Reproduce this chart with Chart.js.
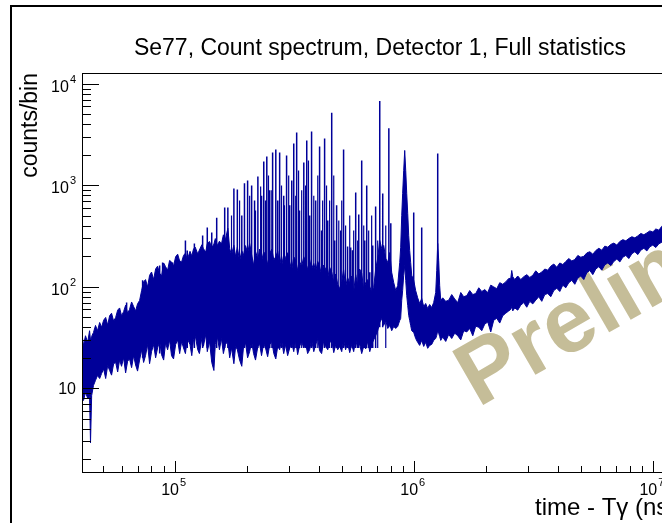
<!DOCTYPE html>
<html lang="en">
<head>
<meta charset="UTF-8" />
<title>Se77, Count spectrum, Detector 1</title>
<script src="https://cdn.jsdelivr.net/npm/chart.js"></script>
<style>
  html, body { margin: 0; padding: 0; background: #fff; overflow: hidden; }
  #wrap { width: 662px; height: 523px; overflow: hidden; }
  canvas { display: block; }
</style>
</head>
<body>
<div id="wrap"><canvas id="spec" width="760" height="523"></canvas></div>
<script>
// time - Tgamma (ns), sampled along the spectrum
const bandX = [
  40800, 41600, 42400, 43300, 44100, 44500, 45000, 45800, 46700, 47600, 48600,
  49500, 50500, 51500, 52500, 53500, 54500, 55600, 56700, 57800, 58900, 60000, 61200, 62400, 63600, 64800, 66100, 67400, 68700, 70000, 71400,
  72800, 74200, 75600, 77100, 78600, 80100, 81700, 83300, 84900, 86600, 88200, 90000, 91700, 93500, 95300, 97100, 99000, 101000, 103000, 105000,
  107000, 109000, 111000, 113000, 116000, 118000, 120000, 122000, 125000, 127000, 130000, 132000, 135000, 137000, 140000, 143000, 146000, 148000, 151000, 154000,
  157000, 160000, 163000, 167000, 170000, 173000, 177000, 180000, 183000, 187000, 191000, 194000, 198000, 202000, 206000, 210000, 214000, 218000, 223000, 227000,
  231000, 236000, 240000, 245000, 250000, 255000, 260000, 265000, 270000, 275000, 280000, 286000, 291000, 297000, 303000, 309000, 315000, 321000, 327000, 333000,
  340000, 347000, 353000, 360000, 367000, 374000, 382000, 389000, 397000, 404000, 412000, 420000, 428000, 437000, 445000, 454000, 463000, 472000, 481000, 490000,
  500000, 509000, 519000, 529000, 540000, 550000, 561000, 572000, 583000, 594000, 606000, 618000, 630000, 642000, 655000, 667000, 680000, 693000, 707000, 721000,
  735000, 749000, 764000, 779000, 794000, 809000, 825000, 841000, 857000, 874000, 882000, 891000, 899000, 908000, 917000, 926000, 935000, 944000, 953000, 962000, 971000, 981000,
  1.000e6, 1.019e6, 1.039e6, 1.059e6, 1.080e6, 1.101e6, 1.122e6, 1.144e6, 1.166e6, 1.189e6, 1.212e6, 1.236e6, 1.248e6, 1.260e6, 1.272e6, 1.284e6, 1.297e6,
  1.322e6, 1.361e6, 1.401e6, 1.442e6, 1.484e6, 1.528e6, 1.573e6, 1.619e6, 1.667e6, 1.715e6, 1.766e6, 1.817e6, 1.871e6, 1.926e6, 1.982e6, 2.040e6, 2.100e6, 2.161e6, 2.225e6, 2.290e6, 2.357e6, 2.426e6, 2.497e6,
  2.546e6, 2.570e6, 2.595e6, 2.646e6, 2.723e6, 2.803e6, 2.886e6, 2.970e6, 3.058e6, 3.147e6, 3.239e6, 3.334e6, 3.432e6, 3.533e6,
  3.636e6, 3.743e6, 3.853e6, 3.965e6, 4.082e6, 4.202e6, 4.325e6, 4.452e6, 4.582e6, 4.717e6, 4.856e6, 4.997e6, 5.144e6, 5.295e6, 5.450e6, 5.610e6, 5.774e6, 5.944e6, 6.118e6, 6.298e6,
  6.482e6, 6.672e6, 6.868e6, 7.070e6, 7.277e6, 7.491e6, 7.710e6, 7.936e6, 8.169e6, 8.409e6, 8.655e6, 8.909e6, 9.171e6, 9.440e6, 9.714e6, 1.000e7, 1.029e7, 1.060e7, 1.090e7,
  1.130e7, 1.180e7, 1.250e7, 1.350e7
];
// upper edge of the dense counts band (counts/bin)
const bandHi = [
  37, 26.5, 33, 28.4, 37, 29.7, 32.5, 35.6, 41.7, 37, 44.6,
  40, 47, 50, 42, 52, 55, 46, 50, 59, 62, 52, 57, 66, 55, 60, 71, 64, 58, 68, 73.5,
  92, 112, 118, 100, 130, 140, 118, 150, 160, 136, 128, 172, 158, 146, 182, 176, 160, 198, 210, 180,
  176, 204, 215, 185, 224, 202, 236, 246, 211, 231, 260, 238, 220, 268, 280, 243, 264, 299, 255, 282,
  264, 326, 290, 378, 238, 207, 257, 199, 246, 180, 227, 204, 255, 216, 268, 208, 163, 224, 188, 236,
  180, 221, 208, 166, 213, 236, 184, 199, 224, 164, 202, 155, 195, 217, 175, 147, 197, 186, 145, 177,
  160, 198, 176, 148, 186, 150, 170, 142, 178, 160, 130, 164, 150, 122, 156, 140, 112, 134, 106, 96,
  112, 148, 100, 124, 108, 128, 90, 132, 104, 150, 136, 94, 110, 118, 100, 90, 98, 148, 192, 287,
  238, 256, 190, 174, 218, 139, 110, 92, 103, 174, 245, 504, 830, 1400, 2210, 1400, 830, 528, 320, 228, 174, 130,
  116, 92, 78, 68.6, 76.8, 64, 68.6, 61.2, 67, 62.6, 70, 88, 145, 268, 182, 103, 73.6,
  78, 72, 74, 84, 76, 70, 88, 80, 82, 92, 84, 86, 98, 90, 94, 88, 104, 100, 96, 110, 106, 112, 121,
  121, 145, 126, 118, 128, 118, 126, 132, 124, 130, 144, 134, 140, 150,
  146, 160, 168, 156, 172, 166, 178, 190, 180, 186, 204, 196, 200, 216, 222, 210, 228, 240, 230, 252,
  246, 262, 270, 258, 280, 292, 284, 300, 312, 304, 318, 336, 326, 340, 356, 348, 372, 362, 395,
  384, 405, 425, 450
];
// lower edge of the dense counts band (counts/bin)
const bandLo = [
  8.5, 7.6, 9.1, 8.0, 8.3, 2.9, 8.5, 10.7, 12, 13.4, 12.5,
  14, 15.5, 12.5, 16.8, 15, 13.5, 17.5, 18, 14.5, 19, 16.5, 20, 14.2, 18.5, 19.5, 16, 21, 17, 14.8, 19,
  24, 18, 21, 27, 17.5, 23, 27, 20, 25, 29, 21.5, 19, 28, 24, 30, 21, 19.5, 27, 30, 22,
  29, 25, 22, 31, 27, 21, 30, 33, 24, 22, 31, 26, 34, 23, 29, 18, 15, 27, 32, 24,
  31, 22, 27, 29, 20, 25, 17.5, 26, 24, 19, 16.5, 25, 28, 20, 23, 29, 22, 19, 26, 27,
  21, 28, 25, 20.5, 27, 29, 22, 19.5, 26, 24, 30, 22, 27, 21, 25, 28, 23, 30, 21.5, 26,
  29, 25, 28, 22, 24, 30, 23, 27, 31, 23.5, 22, 29, 26, 24, 28, 30, 22.5, 27, 24, 26,
  23, 30, 24, 28, 22.5, 27, 23, 30, 25, 27.5, 22, 26, 24.5, 29, 23, 27, 30, 33, 37, 44.6,
  48.8, 41.7, 46.7, 38.9, 42.6, 37, 40.7, 38.9, 40.7, 46.7, 48.8, 73.6, 92, 130, 162, 116, 82, 65.5, 52.3, 46.7, 41.7, 37,
  35.6, 31, 28.4, 26.5, 29.7, 25.9, 28.4, 24.8, 26.5, 27.1, 29.7, 31, 33.2, 37, 34.8, 32.5, 29.7,
  32, 29, 34, 31, 35, 33, 30, 37, 36, 39, 33, 41, 40, 37, 43, 45, 36, 47, 49, 44, 52, 55, 58,
  60, 64, 58, 62, 59, 66, 70, 63, 72, 68, 74, 80, 72, 84,
  86, 80, 92, 97, 90, 104, 98, 110, 116, 106, 122, 128, 118, 138, 145, 132, 150, 158, 146, 165,
  172, 162, 178, 188, 176, 196, 204, 190, 212, 222, 208, 230, 240, 226, 248, 258, 244, 266, 275,
  285, 280, 305, 325
];

// strong gamma lines standing out of the band
const peakX = [
  63000, 73500, 86600, 89100, 98100, 111000, 113000, 121000, 131000, 137000,
  143000, 150000, 162000, 167000, 177000, 183000, 191000, 196000, 202000, 210000,
  216000, 223000, 231000, 236000, 243000, 250000, 257000, 265000, 270000, 275000,
  286000, 294000, 303000, 309000, 315000, 324000, 333000, 347000, 357000, 367000,
  374000, 389000, 404000, 412000, 424000, 437000, 454000, 467000, 476000, 495000,
  509000, 529000, 545000, 555000, 572000, 589000, 606000, 624000, 636000, 655000,
  674000, 693000, 721000, 742000, 787000, 802000, 1.00e6, 1.08e6, 1.26e6
];
const peakTop = [
  70, 116, 162, 174, 174, 287, 228, 268, 320, 385,
  343, 480, 606, 606, 934, 913, 504, 1050, 1120, 1000,
  711, 1220, 790, 1720, 1925, 893, 2110, 2260, 711, 2110,
  790, 1970, 637, 1120, 2590, 3320, 567, 1680, 2775, 504,
  3400, 711, 2420, 360, 2900, 452, 5200, 287, 637, 360,
  2260, 250, 245, 229, 850, 516, 1763, 287, 1000, 139,
  256, 620, 6780, 830, 3650, 423, 540, 385, 2060
];
const peakBase = [
  18, 20, 22, 22, 24, 25, 25, 25, 25, 25,
  25, 25, 25, 25, 25, 25, 25, 25, 25, 25,
  25, 25, 25, 25, 25, 25, 25, 25, 25, 25,
  25, 25, 25, 25, 25, 25, 25, 25, 25, 25,
  25, 25, 25, 25, 25, 25, 25, 25, 25, 25,
  25, 25, 25, 25, 25, 25, 25, 25, 25, 25,
  25, 25, 40, 40, 40, 40, 40, 30, 40
];

// weaker lines filling the forest between the strong ones
const forestX = [
  173000, 187000, 206000, 218000, 229000, 240000, 247000, 255000, 280000, 288000,
  300000, 321000, 330000, 340000, 353000, 363000, 382000, 397000, 416000, 432000,
  445000, 463000, 486000, 500000, 519000, 540000, 561000, 583000, 618000, 648000,
  667000, 707000, 764000
];
const forestTop = [
  504, 711, 790, 567, 976, 711, 1250, 893, 1000, 637,
  1250, 790, 1405, 893, 1000, 1763, 790, 1250, 711, 1000,
  711, 1250, 452, 711, 403, 504, 360, 287, 403, 360,
  504, 287, 403
];
const forestBase = 25;

// axis decorations
const xMajor = [1e5, 1e6, 1e7];
const xLabels = [['10', '5'], ['10', '6'], ['10', '7']];
const yMajor = [10, 100, 1000, 10000];
const yLabels = [['10', ''], ['10', '2'], ['10', '3'], ['10', '4']];
const minorSteps = [2, 3, 4, 5, 6, 7, 8, 9];
const xRange = [41000, 1.35e7];
const yRange = [1.5, 12800];

const titleText = 'Se77, Count spectrum, Detector 1, Full statistics';
const xTitle = 'time - T\u03b3 (ns)';
const yTitle = 'counts/bin';

const FONT = '"Liberation Sans", Arial, Helvetica, sans-serif';
const BLUE = '#000099';

const hiPts = bandX.map((x, i) => ({ x: x, y: bandHi[i] }));
const loPts = bandX.map((x, i) => ({ x: x, y: bandLo[i] }));
const peakPts = [];
peakX.forEach((x, i) => {
  peakPts.push({ x: x, y: peakBase[i] }, { x: x, y: peakTop[i] }, { x: x, y: null });
});
const forestPts = [];
forestX.forEach((x, i) => {
  forestPts.push({ x: x, y: forestBase }, { x: x, y: forestTop[i] }, { x: x, y: null });
});

function powLabel(ctx, base, exp, x, y, align) {
  ctx.font = '16px ' + FONT;
  const wb = ctx.measureText(base).width;
  ctx.font = '11px ' + FONT;
  const we = exp ? ctx.measureText(exp).width + 1 : 0;
  const total = wb + we;
  const x0 = align === 'right' ? x - total : x - total / 2;
  ctx.textAlign = 'left';
  ctx.textBaseline = 'alphabetic';
  ctx.font = '16px ' + FONT;
  ctx.fillText(base, x0, y);
  if (exp) {
    ctx.font = '11px ' + FONT;
    ctx.fillText(exp, x0 + wb + 1, y - 9);
  }
}

const watermark = {
  id: 'watermark',
  beforeDatasetsDraw(chart) {
    const ctx = chart.ctx;
    ctx.save();
    ctx.translate(478, 408);
    ctx.rotate(-30 * Math.PI / 180);
    ctx.font = 'bold 90px ' + FONT;
    ctx.fillStyle = '#c5bd98';
    ctx.textBaseline = 'alphabetic';
    ctx.fillText('Preliminary', 0, 0);
    ctx.restore();
  }
};

const rootAxes = {
  id: 'rootAxes',
  afterDraw(chart) {
    const ctx = chart.ctx;
    const a = chart.chartArea;
    const xs = chart.scales.x, ys = chart.scales.y;
    ctx.save();
    ctx.strokeStyle = '#000';
    ctx.lineWidth = 1;

    // frame
    ctx.strokeRect(Math.round(a.left) + 0.5, Math.round(a.top) + 0.5,
      Math.round(a.right - a.left), Math.round(a.bottom - a.top));

    ctx.beginPath();
    // y ticks
    yMajor.forEach(v => {
      const p = Math.round(ys.getPixelForValue(v)) + 0.5;
      ctx.moveTo(a.left, p); ctx.lineTo(a.left + 17, p);
    });
    [1, 10, 100, 1000].forEach(d => minorSteps.forEach(m => {
      const v = m * d;
      if (v < yRange[0] || v > yRange[1]) return;
      const p = Math.round(ys.getPixelForValue(v)) + 0.5;
      ctx.moveTo(a.left, p); ctx.lineTo(a.left + 9, p);
    }));
    // x ticks
    xMajor.forEach(v => {
      const p = Math.round(xs.getPixelForValue(v)) + 0.5;
      ctx.moveTo(p, a.bottom); ctx.lineTo(p, a.bottom - 11);
    });
    [1e4, 1e5, 1e6, 1e7].forEach(d => minorSteps.forEach(m => {
      const v = m * d;
      if (v < xRange[0] || v > xRange[1]) return;
      const p = Math.round(xs.getPixelForValue(v)) + 0.5;
      ctx.moveTo(p, a.bottom); ctx.lineTo(p, a.bottom - 6);
    }));
    ctx.stroke();

    // tick labels
    ctx.fillStyle = '#000';
    yMajor.forEach((v, i) => {
      const p = ys.getPixelForValue(v);
      const [b, e] = yLabels[i];
      powLabel(ctx, b, e, 76, p + (e ? 8 : 6), 'right');
    });
    xMajor.forEach((v, i) => {
      const p = xs.getPixelForValue(v);
      const [b, e] = xLabels[i];
      powLabel(ctx, b, e, p - 1, a.bottom + 23, 'center');
    });

    // titles
    ctx.font = '23px ' + FONT;
    ctx.textAlign = 'center';
    ctx.textBaseline = 'alphabetic';
    ctx.fillText(titleText, 380, 55);

    ctx.font = '24px ' + FONT;
    ctx.textAlign = 'left';
    ctx.fillText(xTitle, 535, 515);

    ctx.font = '23px ' + FONT;
    ctx.save();
    ctx.translate(37, a.top);
    ctx.rotate(-Math.PI / 2);
    ctx.textAlign = 'right';
    ctx.fillText(yTitle, 0, 0);
    ctx.restore();

    // canvas border
    ctx.lineWidth = 2;
    ctx.strokeRect(11, 6, 744, 560);
    ctx.restore();
  }
};

new Chart(document.getElementById('spec'), {
  type: 'line',
  data: {
    datasets: [
      { data: hiPts, borderColor: BLUE, borderWidth: 1, pointRadius: 0, fill: false },
      { data: loPts, borderColor: BLUE, borderWidth: 1, pointRadius: 0, fill: '-1', backgroundColor: BLUE },
      { data: peakPts, borderColor: BLUE, borderWidth: 1.5, pointRadius: 0, fill: false, spanGaps: false },
      { data: forestPts, borderColor: BLUE, borderWidth: 1.2, pointRadius: 0, fill: false, spanGaps: false }
    ]
  },
  options: {
    responsive: false,
    animation: false,
    devicePixelRatio: 1,
    layout: { padding: { left: 82, top: 73, right: 76, bottom: 51 } },
    elements: { line: { tension: 0 } },
    plugins: { legend: { display: false }, tooltip: { enabled: false }, title: { display: false } },
    scales: {
      x: { type: 'logarithmic', min: xRange[0], max: xRange[1], display: false },
      y: { type: 'logarithmic', min: yRange[0], max: yRange[1], display: false }
    }
  },
  plugins: [watermark, rootAxes]
});
</script>
</body>
</html>
